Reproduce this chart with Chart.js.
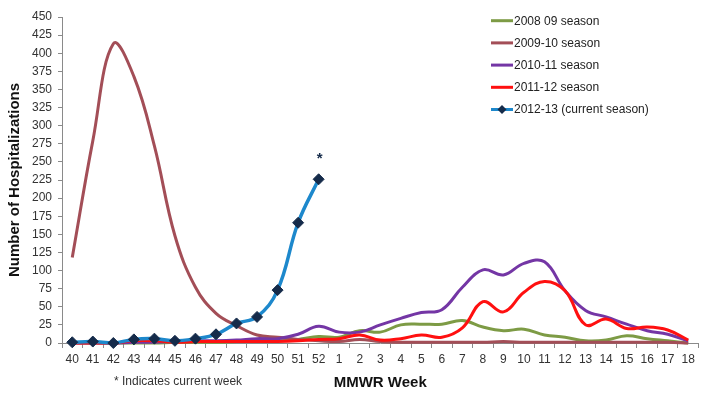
<!DOCTYPE html>
<html>
<head>
<meta charset="utf-8">
<script src="https://cdn.jsdelivr.net/npm/chart.js@4/dist/chart.umd.min.js"></script>
<style>
html,body{margin:0;padding:0;background:#fff;}
#wrap{width:705px;height:400px;position:relative;}
</style>
</head>
<body>
<div id="wrap"><canvas id="c" width="705" height="400"></canvas></div>
<script>
const weeks = ['40','41','42','43','44','45','46','47','48','49','50','51','52',
  '1','2','3','4','5','6','7','8','9','10','11','12','13','14','15','16','17','18'];

const season0809 = [0,0,0,0,0,1,1,1,2,2,3,5,9, 8,17,15,25,26,26,31,22,17,19,11,8,3,4,10,6,3,0];
const season0910 = [118,279,413,368,272,148,77,41,24,11,8,5,3, 2,5,2,1,1,1,1,1,2,1,1,1,1,1,1,1,1,0];
const season1011 = [0,0,0,1,1,2,3,3,4,6,6,12,23, 15,15,25,34,42,46,77,101,94,110,112,72,45,36,26,17,12,3];
const season1112 = [0,0,0,3,3,1,2,2,2,2,2,3,5, 6,11,4,6,11,8,21,57,43,70,85,72,25,33,20,22,18,4];
const season1213 = [1,2,0,5,6,3,6,12,27,36,73,166,226, null,null,null,null,null,null,null,null,null,null,null,null,null,null,null,null,null,null];

const seriesLabels = ['2008 09 season','2009-10 season','2010-11 season','2011-12 season','2012-13 (current season)'];
const yTicksMax = 450;
const yTickStep = 25;
const footnote = '* Indicates current week';
const currentMark = '*';

const colors = ['#7d9b45','#a34e57','#7436a5','#ff1010','#1d88cc'];
const markerColor = '#152b4a';

const legendPlugin = {
  id: 'customLegend',
  afterDraw(chart) {
    const ctx = chart.ctx;
    ctx.save();
    ctx.font = '12px "Liberation Sans", Arial, sans-serif';
    ctx.textBaseline = 'middle';
    ctx.textAlign = 'left';
    chart.data.datasets.forEach((ds, i) => {
      const y = 20.7 + i * 22.2;
      ctx.strokeStyle = ds.borderColor;
      ctx.lineWidth = 3;
      ctx.beginPath();
      ctx.moveTo(491, y);
      ctx.lineTo(513, y);
      ctx.stroke();
      if (ds.pointRadius && ds.pointRadius > 0) {
        ctx.fillStyle = markerColor;
        ctx.beginPath();
        ctx.moveTo(502, y - 4.5);
        ctx.lineTo(506.5, y);
        ctx.lineTo(502, y + 4.5);
        ctx.lineTo(497.5, y);
        ctx.closePath();
        ctx.fill();
      }
      ctx.fillStyle = '#222';
      ctx.fillText(ds.label, 514, y + 0.5);
    });
    ctx.restore();
  }
};

const notesPlugin = {
  id: 'notes',
  afterDraw(chart) {
    const ctx = chart.ctx;
    ctx.save();
    const meta = chart.getDatasetMeta(4);
    let lastIdx = -1;
    season1213.forEach((v, i) => { if (v !== null) lastIdx = i; });
    const pt = meta.data[lastIdx];
    if (pt) {
      ctx.fillStyle = markerColor;
      ctx.font = 'bold 15px "Liberation Sans", Arial, sans-serif';
      ctx.textAlign = 'center';
      ctx.textBaseline = 'middle';
      ctx.fillText(currentMark, pt.x + 1, pt.y - 20);
    }
    ctx.fillStyle = '#333';
    ctx.font = '12px "Liberation Sans", Arial, sans-serif';
    ctx.textAlign = 'left';
    ctx.textBaseline = 'middle';
    ctx.fillText(footnote, 114, 382);
    ctx.restore();
  }
};

const allSeries = [season0809, season0910, season1011, season1112, season1213];

const datasets = allSeries.map((data, i) => ({
  label: seriesLabels[i],
  data: data,
  borderColor: colors[i],
  backgroundColor: colors[i],
  borderWidth: i === 4 ? 3.5 : 3,
  tension: 0.4,
  pointRadius: i === 4 ? 5.5 : 0,
  pointHoverRadius: i === 4 ? 5.5 : 0,
  pointStyle: 'rectRot',
  pointBackgroundColor: markerColor,
  pointBorderColor: markerColor,
  pointBorderWidth: 1,
  fill: false,
  order: 5 - i,
  clip: false
}));

new Chart(document.getElementById('c'), {
  type: 'line',
  data: { labels: weeks, datasets: datasets },
  options: {
    responsive: false,
    animation: false,
    devicePixelRatio: 1,
    layout: { padding: { top: 17, right: 4, left: 0, bottom: 0 } },
    plugins: {
      legend: { display: false },
      tooltip: { enabled: false }
    },
    scales: {
      x: {
        offset: true,
        grid: { offset: true, drawOnChartArea: false, drawTicks: true, tickLength: 5, color: '#8a8a8a' },
        border: { display: true, color: '#8a8a8a', width: 1 },
        ticks: {
          autoSkip: false, maxRotation: 0, padding: 4,
          color: '#333',
          font: { family: '"Liberation Sans", Arial, sans-serif', size: 12 }
        },
        title: {
          display: true, text: 'MMWR Week', color: '#111',
          font: { family: '"Liberation Sans", Arial, sans-serif', size: 15, weight: 'bold' },
          padding: { top: 0, bottom: 8 }
        },
        afterFit: (s) => { s.height = 57; }
      },
      y: {
        min: 0, max: yTicksMax,
        grid: { drawOnChartArea: false, drawTicks: true, tickLength: 4, color: '#8a8a8a' },
        border: { display: true, color: '#8a8a8a', width: 1 },
        ticks: {
          stepSize: yTickStep, padding: 6, color: '#333',
          font: { family: '"Liberation Sans", Arial, sans-serif', size: 12 }
        },
        title: {
          display: true, text: 'Number of Hospitalizations', color: '#111',
          font: { family: '"Liberation Sans", Arial, sans-serif', size: 15, weight: 'bold' },
          padding: { top: 6, bottom: 0 }
        },
        afterFit: (s) => { s.width = 62; }
      }
    }
  },
  plugins: [legendPlugin, notesPlugin]
});
</script>
</body>
</html>
